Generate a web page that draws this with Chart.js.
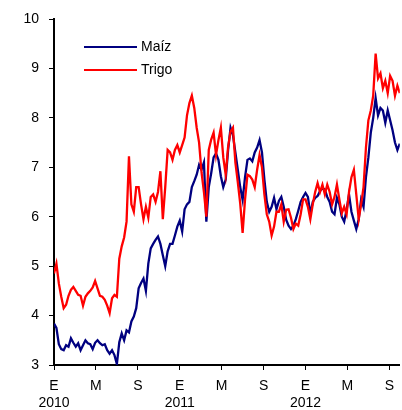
<!DOCTYPE html>
<html>
<head>
<meta charset="utf-8">
<script src="https://cdn.jsdelivr.net/npm/chart.js@4.4.0/dist/chart.umd.min.js"></script>
<style>
  body { margin: 0; background: #fff; }
  #caja { width: 402px; height: 410px; }
</style>
</head>
<body>
<div id="caja"><canvas id="grafica"></canvas></div>
<script>
// precios semanales desde enero 2010
const maiz = [
  3.84, 3.75, 3.42, 3.32, 3.30, 3.40, 3.37, 3.54, 3.45, 3.37,
  3.44, 3.30, 3.40, 3.50, 3.44, 3.42, 3.32, 3.45, 3.50, 3.44,
  3.40, 3.42, 3.30, 3.23, 3.30, 3.20, 3.02, 3.46, 3.64, 3.50,
  3.70, 3.66, 3.88, 3.98, 4.15, 4.55, 4.66, 4.75, 4.50, 5.05,
  5.36, 5.45, 5.53, 5.60, 5.45, 5.22, 5.00, 5.30, 5.45, 5.45,
  5.62, 5.80, 5.92, 5.70, 6.15, 6.25, 6.30, 6.60, 6.72, 6.85,
  7.05, 6.95, 7.10, 5.90, 6.60, 6.88, 7.20, 7.28, 7.15, 6.82,
  6.60, 6.75, 7.35, 7.80, 7.65, 7.30, 6.95, 6.60, 6.34, 6.80,
  7.15, 7.18, 7.12, 7.30, 7.40, 7.55, 7.30, 6.75, 6.30, 6.10,
  6.20, 6.38, 6.15, 6.32, 6.40, 6.20, 5.94, 5.82, 5.75, 5.82,
  5.95, 6.12, 6.30, 6.40, 6.48, 6.40, 6.05, 6.30, 6.38, 6.42,
  6.52, 6.58, 6.55, 6.40, 6.30, 6.10, 6.05, 6.38, 6.25, 6.00,
  5.90, 6.14, 6.45, 6.10, 5.92, 5.75, 5.95, 6.35, 6.20, 6.80,
  7.20, 7.70, 8.00, 8.40, 8.05, 8.20, 8.15, 7.90, 8.15, 7.95,
  7.75, 7.50, 7.35, 7.48
];
const trigo = [
  4.85, 5.05, 4.65, 4.38, 4.15, 4.22, 4.40, 4.52, 4.58, 4.50,
  4.42, 4.40, 4.20, 4.38, 4.45, 4.50, 4.57, 4.70, 4.55, 4.40,
  4.38, 4.32, 4.20, 4.05, 4.35, 4.42, 4.38, 5.15, 5.40, 5.58,
  5.90, 7.22, 6.25, 6.10, 6.60, 6.60, 6.25, 5.95, 6.20, 5.98,
  6.40, 6.45, 6.30, 6.50, 6.92, 5.95, 6.60, 7.35, 7.30, 7.15,
  7.35, 7.45, 7.30, 7.45, 7.60, 8.05, 8.30, 8.45, 8.20, 7.80,
  7.50, 6.90, 6.50, 6.00, 7.35, 7.56, 7.70, 7.25, 7.55, 7.80,
  7.20, 6.85, 7.42, 7.72, 7.80, 7.10, 6.70, 6.27, 5.67, 6.35,
  6.85, 6.82, 6.75, 6.60, 6.95, 7.25, 7.00, 6.45, 6.05, 5.90,
  5.62, 5.80, 6.10, 6.10, 6.25, 5.90, 6.14, 6.15, 5.98, 5.75,
  5.86, 5.82, 6.05, 6.35, 6.35, 6.20, 5.95, 6.25, 6.50, 6.68,
  6.50, 6.65, 6.45, 6.65, 6.50, 6.25, 6.40, 6.65, 6.35, 6.07,
  6.20, 6.05, 6.50, 6.80, 6.95, 6.45, 5.95, 6.25, 6.60, 7.40,
  7.95, 8.15, 8.45, 9.30, 8.80, 8.90, 8.60, 8.75, 8.50, 8.85,
  8.75, 8.45, 8.65, 8.50
];
const meses = ['E', 'M', 'S'];
const anios = ['2010', '2011', '2012'];
const nombres = ['Maíz', 'Trigo'];
const colores = ['#000080', '#ff0000'];

const fuente = { family: "'Liberation Sans', Arial, sans-serif", size: 14 };

const aPuntos = (serie) => serie.map((v, i) => ({ x: i * 12 / 52, y: v }));

// leyenda dentro del grafico
const leyenda = {
  id: 'leyenda',
  afterDraw(chart) {
    const ctx = chart.ctx;
    ctx.save();
    ctx.font = '14px ' + fuente.family;
    ctx.textBaseline = 'middle';
    ctx.fillStyle = '#000';
    nombres.forEach((n, i) => {
      const y = 47 + i * 23;
      ctx.strokeStyle = colores[i];
      ctx.lineWidth = 2;
      ctx.beginPath();
      ctx.moveTo(84, y);
      ctx.lineTo(137, y);
      ctx.stroke();
      ctx.fillText(n, 141, y);
    });
    ctx.restore();
  }
};

new Chart(document.getElementById('grafica'), {
  type: 'line',
  data: {
    datasets: [
      { label: nombres[0], data: aPuntos(maiz), borderColor: colores[0], borderWidth: 2.3, pointRadius: 0, order: 1 },
      { label: nombres[1], data: aPuntos(trigo), borderColor: colores[1], borderWidth: 2.3, pointRadius: 0, order: 0 }
    ]
  },
  options: {
    responsive: true,
    maintainAspectRatio: false,
    animation: false,
    layout: { padding: { top: 19, right: 0, left: 0, bottom: 0 } },
    plugins: { legend: { display: false }, tooltip: { enabled: false } },
    scales: {
      x: {
        type: 'linear',
        min: 0,
        max: 33,
        afterBuildTicks: (s) => {
          s.ticks = [];
          for (let v = 0; v <= 32; v += 4) s.ticks.push({ value: v });
        },
        afterFit: (s) => { s.height = 45; },
        ticks: {
          autoSkip: false,
          maxRotation: 0,
          color: '#000',
          font: fuente,
          padding: 8,
          callback: (v) => {
            const k = Math.round(v / 4);
            const m = meses[k % 3];
            return k % 3 === 0 ? [m, anios[k / 3]] : m;
          }
        },
        grid: { drawOnChartArea: false, drawTicks: true, tickLength: 5, color: '#000' },
        border: { color: '#000', width: 2 }
      },
      y: {
        min: 3,
        max: 10,
        afterFit: (s) => { s.width = 54; },
        ticks: { stepSize: 1, color: '#000', font: fuente, padding: 10 },
        grid: { drawOnChartArea: false, drawTicks: true, tickLength: 5, color: '#000' },
        border: { color: '#000', width: 2 }
      }
    }
  },
  plugins: [leyenda]
});
</script>
</body>
</html>
